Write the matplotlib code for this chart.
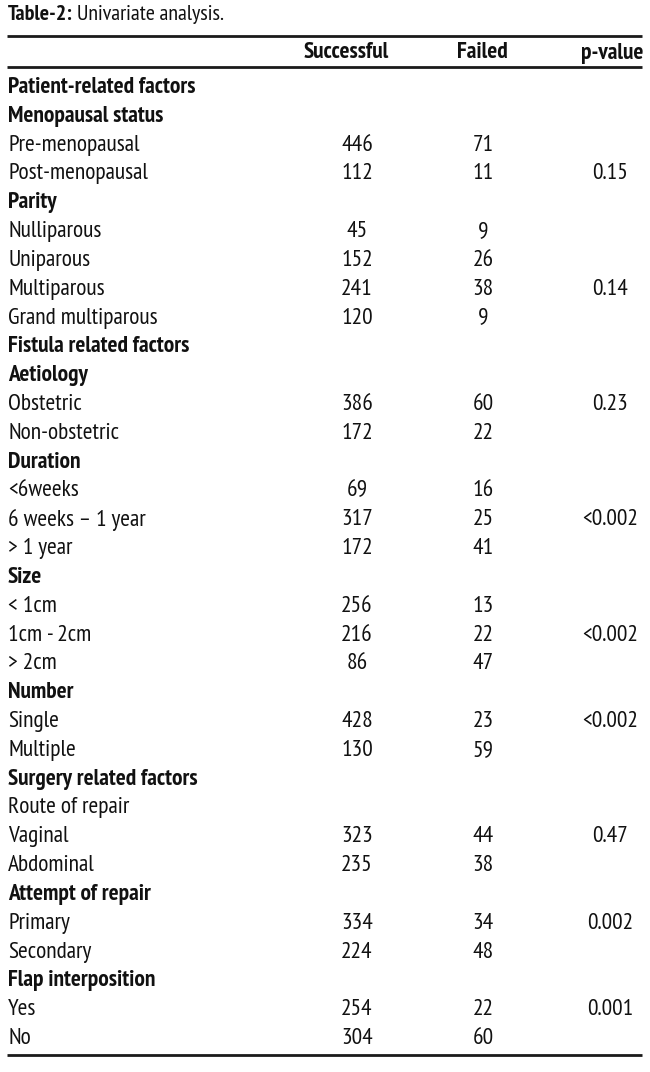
import matplotlib
matplotlib.use('Agg')
import matplotlib.pyplot as plt

plt.rcParams['font.family'] = ['PT Sans Narrow', 'DejaVu Sans']

# table content
labels = ['Patient-related factors', 'Menopausal status', 'Pre-menopausal', 'Post-menopausal',
          'Parity', 'Nulliparous', 'Uniparous', 'Multiparous', 'Grand multiparous',
          'Fistula related factors', 'Aetiology', 'Obstetric', 'Non-obstetric',
          'Duration', '<6weeks', '6 weeks \u2013 1 year', '> 1 year',
          'Size', '< 1cm', '1cm - 2cm', '> 2cm',
          'Number', 'Single', 'Multiple',
          'Surgery related factors', 'Route of repair', 'Vaginal', 'Abdominal',
          'Attempt of repair', 'Primary', 'Secondary',
          'Flap interposition', 'Yes', 'No']
successful = ['', '', '446', '112', '', '45', '152', '241', '120', '', '', '386', '172',
              '', '69', '317', '172', '', '256', '216', '86', '', '428', '130',
              '', '', '323', '235', '', '334', '224', '', '254', '304']
failed = ['', '', '71', '11', '', '9', '26', '38', '9', '', '', '60', '22',
          '', '16', '25', '41', '', '13', '22', '47', '', '23', '59',
          '', '', '44', '38', '', '34', '48', '', '22', '60']
pvalues = ['', '', '', '0.15', '', '', '', '0.14', '', '', '', '0.23', '',
           '', '', '<0.002', '', '', '', '<0.002', '', '', '<0.002', '',
           '', '', '0.47', '', '', '0.002', '', '', '0.001', '']
bold = [True, True, False, False, True, False, False, False, False, True, True, False, False,
        True, False, False, False, True, False, False, False, True, False, False,
        True, False, False, False, True, False, False, True, False, False]
headers = ['Successful', 'Failed', 'p-value']

W, H = 650, 1072
fig = plt.figure(figsize=(W / 100, H / 100), dpi=100)
ax = fig.add_axes([0, 0, 1, 1])
ax.set_xlim(0, W)
ax.set_ylim(H, 0)
ax.axis('off')

fs = 16.8
txt = '#111111'
col_x = [357, 483, 610]
y0, dy = 87.5, 28.82

# title
t1 = ax.text(8, 14, 'Table-2:', fontsize=15.8, fontweight='bold', va='center', ha='left', color=txt)
ax.annotate('Univariate analysis.', xy=(1, 0.5), xycoords=t1, xytext=(3, 0),
            textcoords='offset points', fontsize=15.8, va='center', ha='left', color=txt)

# rules
for y in [36, 67, 1055]:
    ax.plot([7, 642], [y, y], color='#1a1a1a', lw=2.0, solid_capstyle='butt')

for x, h in zip([346, 482, 612], headers):
    ax.text(x, 53, h, fontsize=fs, fontweight='bold', va='center', ha='center', color=txt)

for i, lab in enumerate(labels):
    y = y0 + i * dy
    ax.text(8, y, lab, fontsize=fs, fontweight='bold' if bold[i] else 'normal',
            va='center', ha='left', color=txt)
    for x, v in zip(col_x, [successful[i], failed[i], pvalues[i]]):
        if v:
            ax.text(x, y, v, fontsize=fs, va='center', ha='center', color=txt)

fig.savefig('out.png', dpi=100)
